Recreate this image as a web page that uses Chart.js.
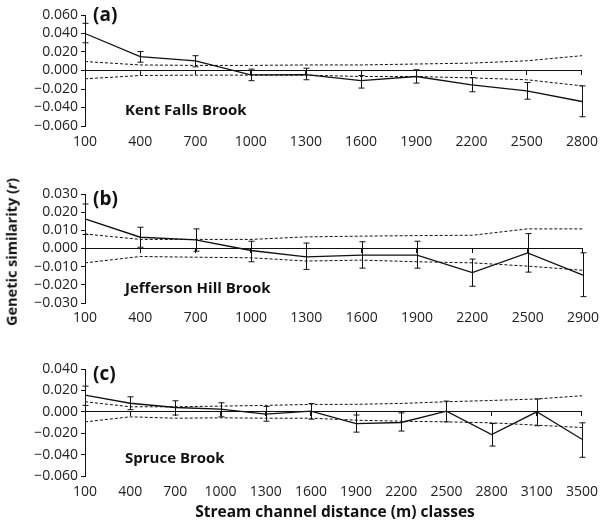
<!DOCTYPE html>
<html lang="en">
<head>
<meta charset="UTF-8">
<title>Genetic similarity by stream distance</title>
<script src="https://cdn.jsdelivr.net/npm/chart.js"></script>
<style>
  body { margin: 0; background: #fff; font-family: 'Open Sans', sans-serif; color: #111; }
  #fig { position: relative; width: 606px; height: 523px; }
  .panel { position: absolute; left: 0; }
  .tag { position: absolute; font-weight: bold; font-size: 19px; line-height: 1; }
  .brook { position: absolute; font-weight: bold; font-size: 15px; line-height: 1; }
  #ytitle { position: absolute; left: 12px; top: 252px; font-weight: bold; font-size: 14.5px; line-height: 1;
            white-space: nowrap; transform: translate(-50%, -50%) rotate(-90deg); }
  #xtitle { position: absolute; left: 335px; top: 504px; font-weight: bold; font-size: 15.5px; line-height: 1;
            white-space: nowrap; transform: translateX(-50%); }
</style>
</head>
<body>
<div id="fig">
  <canvas id="chartA" class="panel" width="606" height="160" style="top:0px"></canvas>
  <canvas id="chartB" class="panel" width="606" height="158" style="top:179px"></canvas>
  <canvas id="chartC" class="panel" width="606" height="156" style="top:354px"></canvas>

  <div class="tag" style="left:93px; top:5px">(a)</div>
  <div class="tag" style="left:93px; top:189px">(b)</div>
  <div class="tag" style="left:93px; top:364px">(c)</div>

  <div class="brook" style="left:125px; top:102px">Kent Falls Brook</div>
  <div class="brook" style="left:125px; top:280px">Jefferson Hill Brook</div>
  <div class="brook" style="left:125px; top:450px">Spruce Brook</div>

  <div id="ytitle">Genetic similarity (<i>r</i>)</div>
  <div id="xtitle">Stream channel distance (m) classes</div>
</div>

<script>
// (a) Kent Falls Brook
const labelsA = ['100', '400', '700', '1000', '1300', '1600', '1900', '2200', '2500', '2800'];
const rA     = [0.040, 0.015, 0.0105, -0.0047, -0.0045, -0.011, -0.0065, -0.0155, -0.022, -0.0335];
const hiA    = [0.051, 0.0205, 0.016, 0.0015, 0.0025, -0.0054, 0.0008, -0.0076, -0.013, -0.0166];
const loA    = [0.030, 0.009, 0.004, -0.011, -0.010, -0.019, -0.0136, -0.023, -0.031, -0.050];
const upperA = [0.0097, 0.006, 0.0055, 0.0055, 0.006, 0.006, 0.007, 0.008, 0.0105, 0.016];
const lowerA = [-0.009, -0.0054, -0.005, -0.005, -0.005, -0.0065, -0.0065, -0.008, -0.010, -0.0166];

// (b) Jefferson Hill Brook
const labelsB = ['100', '400', '700', '1000', '1300', '1600', '1900', '2200', '2500', '2900'];
const rB     = [0.0163, 0.0062, 0.0048, -0.0011, -0.0046, -0.0037, -0.0037, -0.0133, -0.0024, -0.0146];
const hiB    = [0.0245, 0.0117, 0.0108, 0.004, 0.003, 0.0037, 0.004, -0.0058, 0.0082, -0.0024];
const loB    = [0.0077, 0.0007, -0.0015, -0.0073, -0.0115, -0.0108, -0.0108, -0.0208, -0.013, -0.0265];
const upperB = [0.008, 0.005, 0.005, 0.005, 0.0064, 0.0068, 0.0071, 0.0073, 0.0108, 0.0108];
const lowerB = [-0.0079, -0.0044, -0.0048, -0.0051, -0.0069, -0.0064, -0.0073, -0.0079, -0.0097, -0.012];

// (c) Spruce Brook
const labelsC = ['100', '400', '700', '1000', '1300', '1600', '1900', '2200', '2500', '2800', '3100', '3500'];
const rC     = [0.0156, 0.008, 0.004, 0.0025, -0.0022, 0.0006, -0.011, -0.010, 0.0006, -0.0213, 0.0, -0.0256];
const hiC    = [0.024, 0.014, 0.0103, 0.0084, 0.005, 0.0078, -0.003, -0.001, 0.010, -0.011, 0.012, -0.0103];
const loC    = [0.006, 0.002, -0.003, -0.0047, -0.0088, -0.0069, -0.019, -0.018, -0.0094, -0.032, -0.013, -0.0425];
const upperC = [0.0094, 0.0047, 0.0047, 0.0053, 0.006, 0.0069, 0.007, 0.0078, 0.0094, 0.0106, 0.012, 0.015];
const lowerC = [-0.0094, -0.0047, -0.006, -0.0056, -0.006, -0.006, -0.0078, -0.0088, -0.0094, -0.0103, -0.0125, -0.0147];

const ink = '#111';
const tickFont = { family: "'Open Sans', sans-serif", size: 14 };

// draws vertical error bars with small caps
const errorBars = {
  id: 'errorBars',
  afterDatasetsDraw(chart, args, opts) {
    const ctx = chart.ctx;
    const x = chart.scales.x, y = chart.scales.y;
    ctx.save();
    ctx.strokeStyle = ink;
    ctx.lineWidth = 1;
    opts.hi.forEach((h, i) => {
      const px = Math.round(x.getPixelForValue(i)) + 0.5;
      const yh = y.getPixelForValue(h);
      const yl = y.getPixelForValue(opts.lo[i]);
      ctx.beginPath();
      ctx.moveTo(px, yh); ctx.lineTo(px, yl);
      ctx.moveTo(px - 3, yh); ctx.lineTo(px + 3, yh);
      ctx.moveTo(px - 3, yl); ctx.lineTo(px + 3, yl);
      ctx.stroke();
    });
    ctx.restore();
  }
};

function fmt(v) {
  if (Math.abs(v) < 1e-9) return '0.000';
  return (v < 0 ? '\u2212' : '') + Math.abs(v).toFixed(3);
}

function makePanel(id, labels, r, hi, lo, upper, lower, yMin, yMax, step, labelPad) {
  const dashed = { borderColor: ink, borderWidth: 1, borderDash: [3, 2], pointRadius: 0, tension: 0 };
  new Chart(document.getElementById(id), {
    type: 'line',
    data: {
      labels: labels,
      datasets: [
        { data: r, borderColor: ink, borderWidth: 1.3, pointRadius: 0, tension: 0 },
        Object.assign({ data: upper }, dashed),
        Object.assign({ data: lower }, dashed)
      ]
    },
    options: {
      responsive: false,
      animation: false,
      layout: { padding: { top: 15, right: 18, left: 0, bottom: 0 } },
      plugins: {
        legend: { display: false },
        tooltip: { enabled: false },
        errorBars: { hi: hi, lo: lo }
      },
      scales: {
        x: {
          type: 'category',
          position: 'bottom',
          border: { display: false },
          grid: { display: false, drawTicks: false },
          ticks: { color: '#222', font: tickFont, padding: labelPad, maxRotation: 0, autoSkip: false },
          afterFit: s => { s.height = 34; }
        },
        x0: {
          type: 'category',
          axis: 'x',
          position: { y: 0 },
          border: { display: true, color: ink, width: 1 },
          grid: { display: true, drawOnChartArea: false, drawTicks: true, tickLength: 4, color: ink },
          ticks: { display: false }
        },
        y: {
          min: yMin,
          max: yMax,
          border: { display: true, color: ink, width: 1 },
          grid: { display: true, drawOnChartArea: false, drawTicks: true, tickLength: 4, color: ink },
          ticks: { stepSize: step, autoSkip: false, color: '#222', font: tickFont, padding: 3, callback: v => fmt(v) },
          afterFit: s => { s.width = 85; }
        }
      }
    },
    plugins: [errorBars]
  });
}

makePanel('chartA', labelsA, rA, hiA, loA, upperA, lowerA, -0.06, 0.06, 0.02, 8);
makePanel('chartB', labelsB, rB, hiB, loB, upperB, lowerB, -0.03, 0.03, 0.01, 7);
makePanel('chartC', labelsC, rC, hiC, loC, upperC, lowerC, -0.06, 0.04, 0.02, 8);
</script>
</body>
</html>
